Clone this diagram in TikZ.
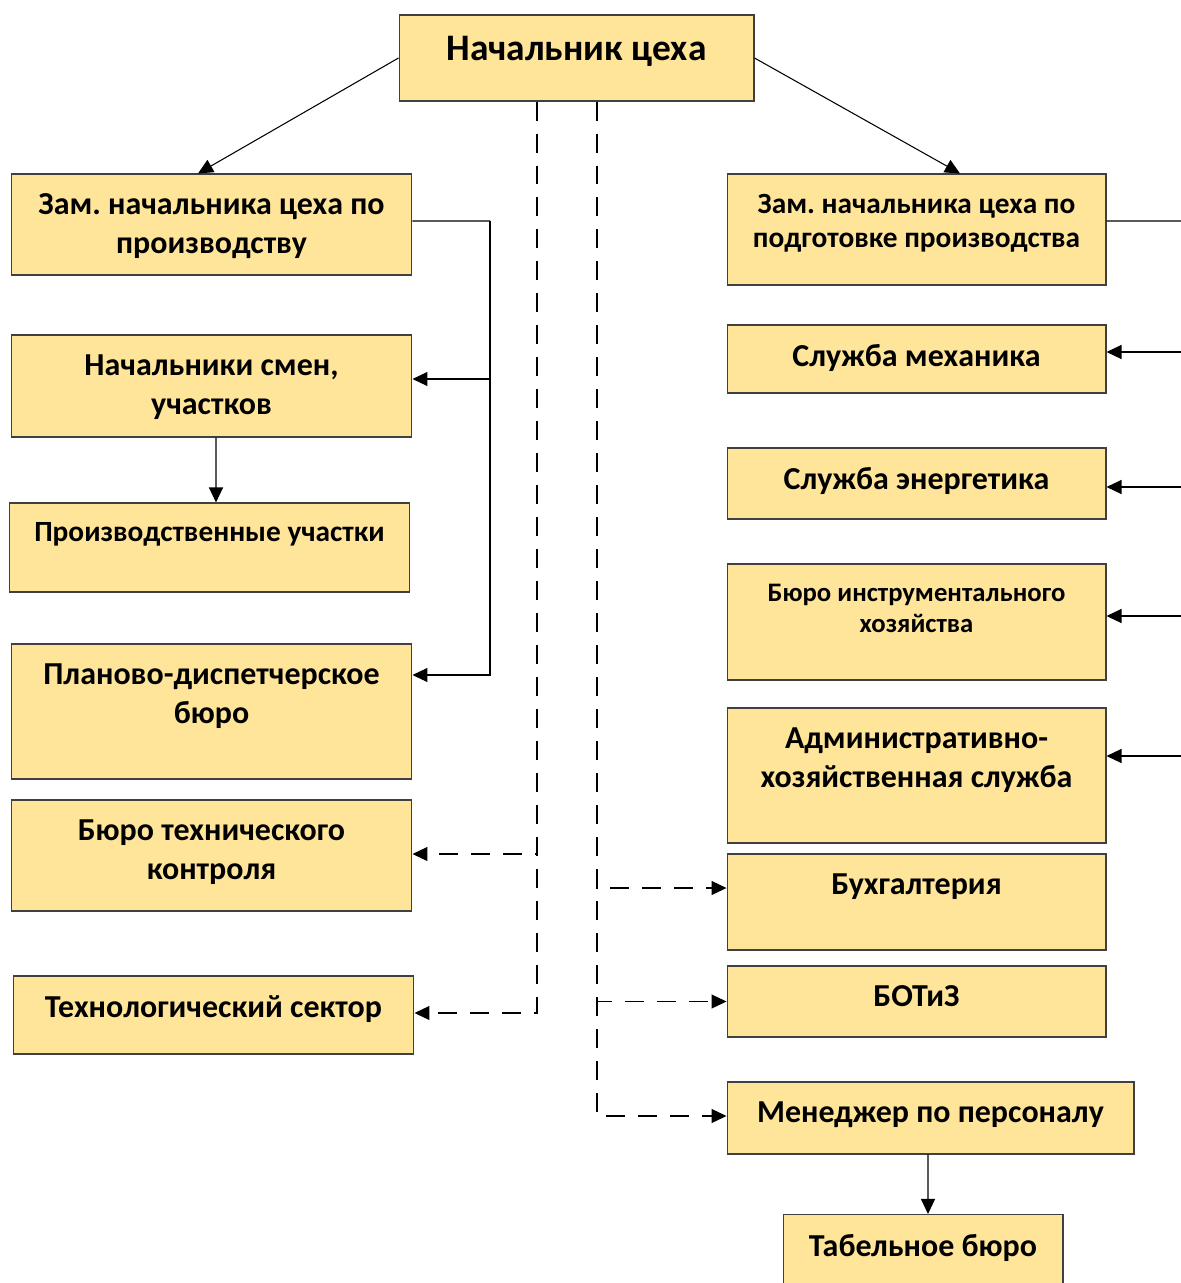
\documentclass[tikz,border=0pt]{standalone}
\usepackage{fontspec}
\setmainfont{Carlito}
\usetikzlibrary{arrows.meta, positioning}
\definecolor{boxfill}{RGB}{255,229,153}
\definecolor{boxline}{RGB}{64,64,64}
\frenchspacing

\begin{document}
\begin{tikzpicture}[x=0.02cm, y=-0.02cm,
        box/.style={rectangle, draw=boxline, fill=boxfill, line width=0.6pt, inner sep=0pt, minimum width=8.02cm},
        boxr/.style={box, minimum width=7.58cm},
        txt/.style={anchor=north, yshift=-0.4cm, inner sep=0pt, align=center, font=\bfseries\fontsize{18.2}{22}\selectfont},
        txtm/.style={txt, font=\bfseries\fontsize{16.7}{19.8}\selectfont},
        txts/.style={txt, font=\bfseries\fontsize{15.2}{18}\selectfont},
        link/.style={line width=0.6pt, draw=black},
        arrow/.style={-{Triangle[length=0.3cm, width=0.28cm]}, line width=0.6pt, draw=black},
        dasharrow/.style={arrow, dash pattern=on 0.38cm off 0.26cm}
    ]
    \useasboundingbox (0,0) rectangle (1180,1283);

    % Начальник цеха
    \node[box, minimum width=7.1cm, minimum height=1.72cm] (chief) at (576.5,58) {};
    \node[txt, yshift=-0.02cm, font=\bfseries\fontsize{21.3}{26}\selectfont] (chiefT) at (chief.north) {Начальник цеха};

    % Левая колонка
    \node[box, minimum height=2.02cm] (L1) at (211.5,224.5) {};
    \node[txt] (L1T) at (L1.north) {Зам. начальника цеха по\\производству};
    \node[box, minimum height=2.04cm] (L2) at (211.5,386) {};
    \node[txt] (L2T) at (L2.north) {Начальники смен,\\участков};
    \node[box, minimum height=1.78cm] (L3) at (209.5,547.5) {};
    \node[txtm] (L3T) at (L3.north) {Производственные участки};
    \node[box, minimum height=2.7cm] (L4) at (211.5,711.5) {};
    \node[txt] (L4T) at (L4.north) {Планово-диспетчерское\\бюро};
    \node[box, minimum height=2.22cm] (L5) at (211.5,855.5) {};
    \node[txt] (L5T) at (L5.north) {Бюро технического\\контроля};
    \node[box, minimum height=1.56cm] (L6) at (213.5,1015) {};
    \node[txt] (L6T) at (L6.north) {Технологический сектор};

    % Правая колонка
    \node[boxr, minimum height=2.22cm] (R1) at (916.5,229.5) {};
    \node[txtm] (R1T) at (R1.north) {Зам. начальника цеха по\\подготовке производства};
    \node[boxr, minimum height=1.36cm] (R2) at (916.5,359) {};
    \node[txt] (R2T) at (R2.north) {Служба механика};
    \node[boxr, minimum height=1.42cm] (R3) at (916.5,483.5) {};
    \node[txt] (R3T) at (R3.north) {Служба энергетика};
    \node[boxr, minimum height=2.32cm] (R4) at (916.5,622) {};
    \node[txts] (R4T) at (R4.north) {Бюро инструментального\\хозяйства};
    \node[boxr, minimum height=2.7cm] (R5) at (916.5,775.5) {};
    \node[txt] (R5T) at (R5.north) {Административно-\\хозяйственная служба};
    \node[boxr, minimum height=1.92cm] (R6) at (916.5,902) {};
    \node[txt] (R6T) at (R6.north) {Бухгалтерия};
    \node[boxr, minimum height=1.42cm] (R7) at (916.5,1001.5) {};
    \node[txt] (R7T) at (R7.north) {БОТиЗ};
    \node[box, minimum width=8.14cm, minimum height=1.44cm] (R8) at (930.5,1118) {};
    \node[txt] (R8T) at (R8.north) {Менеджер по персоналу};
    \node[box, minimum width=5.6cm, minimum height=1.5cm] (R9) at (923,1252) {};
    \node[txt] (R9T) at (R9.north) {Табельное бюро};

    % Сплошные связи
    \draw[arrow] (chief.west) -- ([xshift=-0.27cm]L1.north);
    \draw[arrow] (chief.east) -- ([xshift=0.87cm]R1.north);

    \coordinate (lbus) at (490,221);
    \draw[link] ([yshift=0.07cm]L1.east) -- (lbus);
    \draw[arrow] (lbus) |- ([yshift=0.14cm]L2.east);
    \draw[arrow] (lbus) |- ([yshift=0.73cm]L4.east);
    \draw[arrow] ([xshift=0.09cm]L2.south) -- ([xshift=0.13cm]L3.north);

    \coordinate (rbus) at (1200,221);
    \draw[link] ([yshift=0.17cm]R1.east) -- (rbus) -- ++(0,535);
    \draw[arrow] ([yshift=0.14cm]R2.east) ++(94,0) -- ++(-94,0);
    \draw[arrow] ([yshift=-0.07cm]R3.east) ++(94,0) -- ++(-94,0);
    \draw[arrow] ([yshift=0.12cm]R4.east) ++(94,0) -- ++(-94,0);
    \draw[arrow] ([yshift=0.39cm]R5.east) ++(94,0) -- ++(-94,0);
    \draw[arrow] ([xshift=-0.05cm]R8.south) -- ([xshift=0.1cm]R9.north);

    % Пунктирные связи
    \coordinate (dl) at (537,0);
    \coordinate (dr) at (597,0);
    \draw[dasharrow] (chief.south -| dl) |- ([yshift=0.03cm]L5.east);
    \draw[dasharrow] (chief.south -| dl) |- ([yshift=0.04cm]L6.east);
    \draw[dasharrow] (chief.south -| dr) |- ([yshift=0.28cm]R6.west);
    \draw[dasharrow] (chief.south -| dr) |- (R7.west);
    \draw[dasharrow] (chief.south -| dr) |- ([yshift=0.04cm]R8.west);
\end{tikzpicture}
\end{document}
